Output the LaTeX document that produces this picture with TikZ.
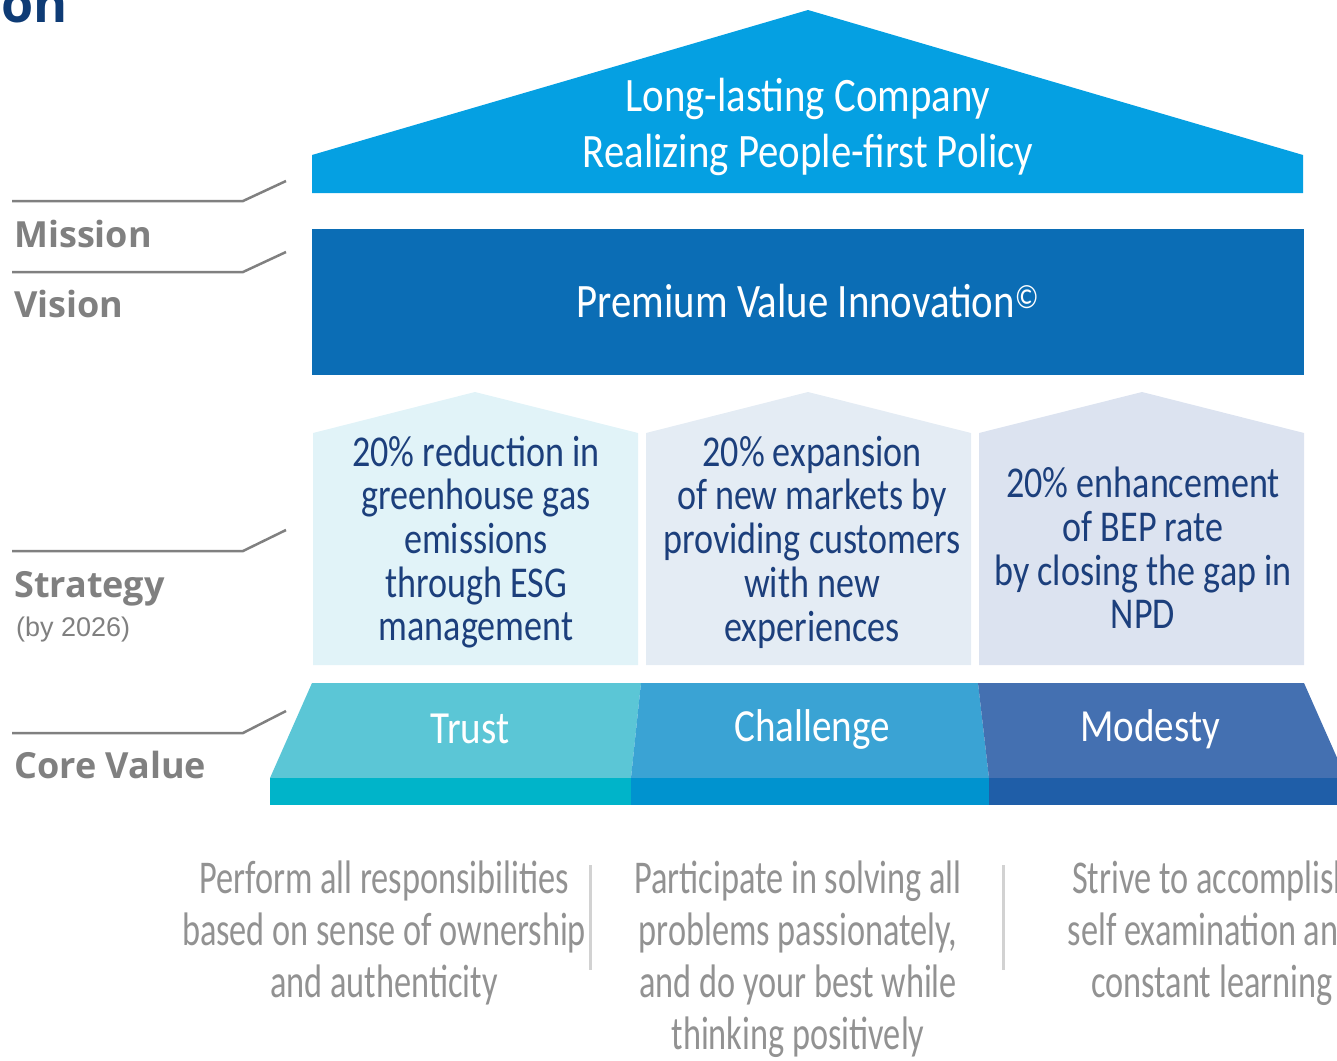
\documentclass[tikz,border=0pt]{standalone}
\usepackage{fontspec}
\setmainfont{Carlito}
\newfontfamily\boxfont[FakeStretch=0.85]{Carlito}
\newfontfamily\pillarfont[FakeStretch=0.82]{Carlito}
\newfontfamily\notefont[FakeStretch=0.73]{Carlito}
\newfontfamily\labelfont{Open Sans}
\newfontfamily\arialfont{Liberation Sans}

\definecolor{roofblue}{HTML}{05A0E2}
\definecolor{visionblue}{HTML}{0B6DB5}
\definecolor{pillarA}{HTML}{E1F3F8}
\definecolor{pillarB}{HTML}{E4ECF4}
\definecolor{pillarC}{HTML}{DCE3F0}
\definecolor{trusttop}{HTML}{5BC6D6}
\definecolor{trustfront}{HTML}{00B4C9}
\definecolor{chaltop}{HTML}{3AA3D4}
\definecolor{chalfront}{HTML}{0093CF}
\definecolor{modtop}{HTML}{4470B1}
\definecolor{modfront}{HTML}{1F5EA8}
\definecolor{navytext}{HTML}{1C3F7C}
\definecolor{titlenavy}{HTML}{0E3B75}
\definecolor{labelgrey}{HTML}{808080}
\definecolor{notegrey}{HTML}{929292}
\definecolor{sepgrey}{HTML}{D2D2D2}

\tikzset{
  leader/.style={draw=labelgrey, line width=2.5pt},
  levellabel/.style={anchor=base west, inner sep=0pt, text=labelgrey,
    font=\labelfont\bfseries\fontsize{36}{40}\selectfont},
  whitetext/.style={text=white, align=center,
    font=\boxfont\fontsize{48}{56}\selectfont},
  strategytext/.style={text=navytext, align=center,
    font=\pillarfont\fontsize{44}{43.7}\selectfont},
  valuetext/.style={text=white, font=\boxfont\fontsize{46}{50}\selectfont},
  notetext/.style={text=notegrey, align=center,
    font=\notefont\fontsize{47}{52}\selectfont},
  sepline/.style={draw=sepgrey, line width=3pt}
}

\begin{document}
\begin{tikzpicture}[x=1pt,y=-1pt]
\useasboundingbox (0,0) rectangle (1337,1060);

\node[anchor=base west, inner sep=0pt, text=titlenavy,
  font=\labelfont\bfseries\fontsize{52}{56}\selectfont] (title) at (1,22) {on};

% roof and vision
\fill[roofblue] (312,193) -- (312,155) -- (808,10) -- (1303,155) -- (1303,193) -- cycle;
\node[whitetext] (mission) at (808,127) {Long-lasting Company\\Realizing People-first Policy};
\fill[visionblue] (312,229) rectangle (1304,375);
\node[whitetext] (vision) at (808,301) {Premium Value Innovation\textsuperscript{\textcopyright}};

% strategy pillars
\fill[pillarA] (313,665) -- (313,433) -- (475,392) -- (638,433) -- (638,665) -- cycle;
\fill[pillarB] (646,665) -- (646,433) -- (808,392) -- (971,433) -- (971,665) -- cycle;
\fill[pillarC] (979,665) -- (979,433) -- (1142,392) -- (1304,433) -- (1304,665) -- cycle;
\node[strategytext] (esg) at (476,542) {20\% reduction in\\greenhouse gas\\emissions\\through ESG\\management};
\node[strategytext] (market) at (812,542) {20\% expansion\\of new markets by\\providing customers\\with new\\experiences};
\node[strategytext] (bep) at (1143,548) {20\% enhancement\\of BEP rate\\by closing the gap in\\NPD};

% core values
\fill[trusttop] (312,683) -- (641,683) -- (631,778) -- (270,778) -- cycle;
\fill[trustfront] (270,778) rectangle (631,805);
\fill[chaltop] (641,683) -- (978,683) -- (989,778) -- (631,778) -- cycle;
\fill[chalfront] (631,778) rectangle (989,805);
\fill[modtop] (978,683) -- (1304,683) -- (1346,778) -- (989,778) -- cycle;
\fill[modfront] (989,778) rectangle (1346,805);
\node[valuetext] (trust) at (470,729) {Trust};
\node[valuetext] (challenge) at (812,729) {Challenge};
\node[valuetext] (modesty) at (1150,729) {Modesty};

% level labels
\draw[leader] (12,201) -- (243,201) -- (286,181);
\node[levellabel] (missionlbl) at (14,247) {Mission};
\draw[leader] (12,272) -- (243,272) -- (286,252);
\node[levellabel] (visionlbl) at (14,317) {Vision};
\draw[leader] (12,551) -- (243,551) -- (286,530);
\node[levellabel] (strategylbl) at (14,597) {Strategy};
\node[anchor=base west, inner sep=0pt, text=labelgrey,
  font=\arialfont\fontsize{27}{30}\selectfont] (bylbl) at (16,636) {(by 2026)};
\draw[leader] (12,733) -- (243,733) -- (286,711);
\node[levellabel] (corelbl) at (14,778) {Core Value};

% value descriptions
\node[notetext] (trustnote) at (384,933) {Perform all responsibilities\\based on sense of ownership\\and authenticity};
\node[notetext] (chalnote) at (798,959) {Participate in solving all\\problems passionately,\\and do your best while\\thinking positively};
\node[notetext] (modnote) at (1212,933) {Strive to accomplish\\self examination and\\constant learning};
\draw[sepline] (590,865) -- (590,970);
\draw[sepline] (1003,865) -- (1003,970);
\end{tikzpicture}
\end{document}
